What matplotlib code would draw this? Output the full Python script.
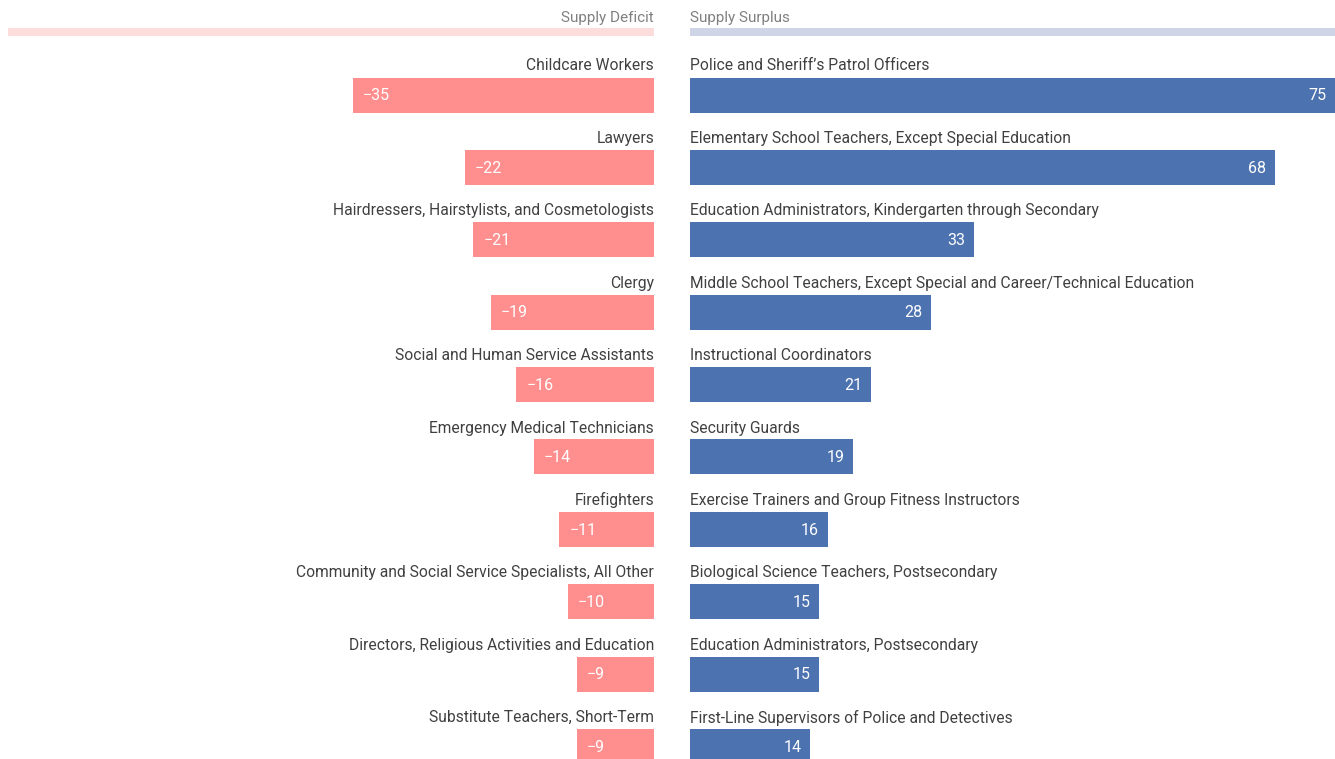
import matplotlib
matplotlib.use("Agg")
import matplotlib.pyplot as plt

plt.rcParams['font.family'] = ['Roboto', 'DejaVu Sans']

deficit_labels = [
    "Childcare Workers", "Lawyers", "Hairdressers, Hairstylists, and Cosmetologists",
    "Clergy", "Social and Human Service Assistants", "Emergency Medical Technicians",
    "Firefighters", "Community and Social Service Specialists, All Other",
    "Directors, Religious Activities and Education", "Substitute Teachers, Short-Term",
]
deficit_values = [-35, -22, -21, -19, -16, -14, -11, -10, -9, -9]

surplus_labels = [
    "Police and Sheriff\u2019s Patrol Officers",
    "Elementary School Teachers, Except Special Education",
    "Education Administrators, Kindergarten through Secondary",
    "Middle School Teachers, Except Special and Career/Technical Education",
    "Instructional Coordinators", "Security Guards",
    "Exercise Trainers and Group Fitness Instructors",
    "Biological Science Teachers, Postsecondary",
    "Education Administrators, Postsecondary",
    "First-Line Supervisors of Police and Detectives",
]
surplus_values = [75, 68, 33, 28, 21, 19, 16, 15, 15, 14]

headers = ["Supply Deficit", "Supply Surplus"]

W, H = 1335, 759
fig = plt.figure(figsize=(W / 100, H / 100), dpi=100)

PX = 8.6          # pixels per unit
ROW = 72.4        # pixels per row
Y0 = 95           # bar center of first row, px
ymin = (0 - Y0) / ROW
ymax = (H - Y0) / ROW

RED = "#FF8E8E"
BLUE = "#4C72B0"
RED_L = "#FDDCDC"
BLUE_L = "#CFD5E6"
TXT = "#404040"
HDR = "#808080"

axL = fig.add_axes([0, 0, 654 / W, 1])
axR = fig.add_axes([690 / W, 0, (W - 690) / W, 1])
axL.set_xlim(-654 / PX, 0)
axR.set_xlim(0, (W - 690) / PX)
for ax in (axL, axR):
    ax.set_ylim(ymax, ymin)
    ax.axis("off")

idx = list(range(len(deficit_values)))
bh = 35 / ROW
axL.barh(idx, deficit_values, height=bh, color=RED)
axR.barh(idx, surplus_values, height=bh, color=BLUE)

lab_off = -29 / ROW
for i, (lab, v) in enumerate(zip(deficit_labels, deficit_values)):
    axL.text(0, i + lab_off, lab, ha="right", va="center", fontsize=11.28, color=TXT)
    axL.text(v + 1.15, i + 0.01, "\u2212" + str(abs(v)), ha="left", va="center",
             fontsize=11.5, color="white")
for i, (lab, v) in enumerate(zip(surplus_labels, surplus_values)):
    axR.text(0, i + lab_off, lab, ha="left", va="center", fontsize=11.28, color=TXT)
    axR.text(v - 1.0, i + 0.01, str(v), ha="right", va="center",
             fontsize=11.5, color="white")

# header
hy = (18 - Y0) / ROW
hb = (32 - Y0) / ROW
axL.text(0, hy, headers[0], ha="right", va="center", fontsize=11, color=HDR)
axR.text(0, hy, headers[1], ha="left", va="center", fontsize=11, color=HDR)
axL.barh([hb], [-(654 - 8) / PX], height=8 / ROW, color=RED_L)
axR.barh([hb], [(W - 690) / PX], height=8 / ROW, color=BLUE_L)

fig.savefig("out.png", dpi=100)
